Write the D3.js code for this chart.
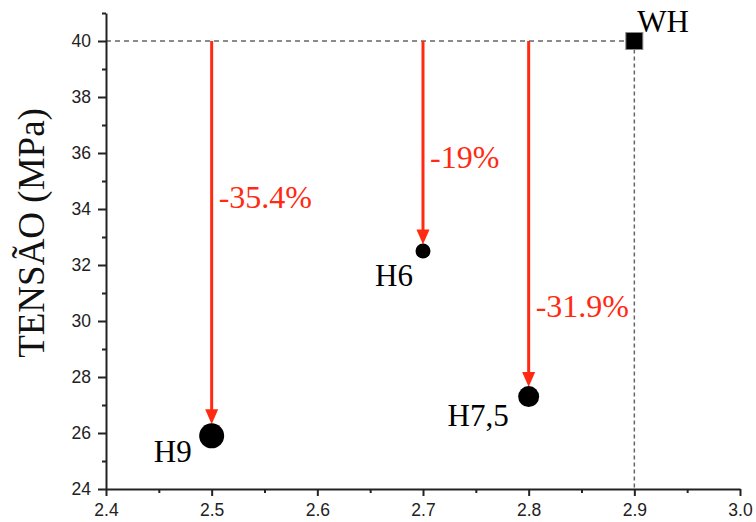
<!DOCTYPE html>
<html>
<head>
<meta charset="utf-8">
<script src="https://cdn.jsdelivr.net/npm/d3@7"></script>
<style>
  html, body { margin: 0; padding: 0; background: #fff; }
  svg { display: block; }
</style>
</head>
<body>
<svg id="chart" width="756" height="522"></svg>
<script>
// ---- data ----
const categories = ["WH", "H6", "H7,5", "H9"];
const xValues = [2.9, 2.7, 2.8, 2.5];
const yValues = [40, 32.5, 27.3, 25.9];
const reference = "WH";
const arrowTargets = ["H6", "H7,5", "H9"];
const reductionLabels = ["-19%", "-31.9%", "-35.4%"];
const xTicks = [2.4, 2.5, 2.6, 2.7, 2.8, 2.9, 3.0];
const xMinorTicks = [2.45, 2.55, 2.65, 2.75, 2.85, 2.95];
const yTicks = [24, 26, 28, 30, 32, 34, 36, 38, 40];
const yMinorTicks = [25, 27, 29, 31, 33, 35, 37, 39, 41];
const yTitle = "TENSÃO (MPa)";

// ---- style / layout ----
const SERIF = "'Liberation Serif', 'Times New Roman', Times, serif";
const SANS = "'Liberation Sans', Arial, Helvetica, sans-serif";
const RED = "#ff2a12";
const markerRadius = { "H6": 7.5, "H7,5": 10.5, "H9": 12.5 };
const squareSize = 17;
const pointLabelOffset = { "WH": [3, -9, "start"], "H6": [-10, 35, "end"], "H7,5": [-20, 29, "end"], "H9": [-20, 26, "end"] };
const pctLabelY = { "H6": 168, "H7,5": 317, "H9": 208 };

const svg = d3.select("#chart");
const x = d3.scaleLinear().domain([2.4, 3.0]).range([106, 740]);
const y = d3.scaleLinear().domain([24, 41]).range([489, 13]);

const pts = categories.map((c, i) => ({ name: c, x: xValues[i], y: yValues[i] }));
const ref = pts.find(p => p.name === reference);

// dashed reference lines
svg.append("line")
  .attr("x1", x(2.4)).attr("x2", x(ref.x) - squareSize / 2)
  .attr("y1", y(ref.y)).attr("y2", y(ref.y))
  .attr("stroke", "#666").attr("stroke-width", 1.5).attr("stroke-dasharray", "5,4");
svg.append("line")
  .attr("x1", x(ref.x)).attr("x2", x(ref.x))
  .attr("y1", y(ref.y) + squareSize / 2).attr("y2", y(24))
  .attr("stroke", "#666").attr("stroke-width", 1.5).attr("stroke-dasharray", "4,3");

// axes
function styleAxis(g) {
  g.selectAll("path.domain").attr("stroke", "#222").attr("stroke-width", 2);
  g.selectAll(".tick line").attr("stroke", "#222").attr("stroke-width", 2);
  g.selectAll(".tick text").attr("fill", "#222").style("font-family", SANS).style("font-size", "17.5px");
}
const xAxis = svg.append("g").attr("transform", `translate(0,${y(24)})`)
  .call(d3.axisBottom(x).tickValues(xTicks).tickFormat(d3.format(".1f")).tickSize(7).tickSizeOuter(0).tickPadding(8));
styleAxis(xAxis);
const xMinor = svg.append("g").attr("transform", `translate(0,${y(24)})`)
  .call(d3.axisBottom(x).tickValues(xMinorTicks).tickFormat("").tickSize(4).tickSizeOuter(0));
styleAxis(xMinor);
xMinor.select("path.domain").remove();

const yAxis = svg.append("g").attr("transform", `translate(${x(2.4)},0)`)
  .call(d3.axisLeft(y).tickValues(yTicks).tickFormat(d3.format("d")).tickSize(8).tickSizeOuter(0).tickPadding(7));
styleAxis(yAxis);
const yMinor = svg.append("g").attr("transform", `translate(${x(2.4)},0)`)
  .call(d3.axisLeft(y).tickValues(yMinorTicks).tickFormat("").tickSize(4).tickSizeOuter(0));
styleAxis(yMinor);
yMinor.select("path.domain").remove();

// y title
svg.append("text")
  .attr("transform", `translate(44,233) rotate(-90)`)
  .attr("text-anchor", "middle")
  .style("font-family", SERIF).style("font-size", "37px").attr("fill", "#111")
  .text(yTitle);

// arrows
arrowTargets.forEach((name, i) => {
  const p = pts.find(d => d.name === name);
  const cx = x(p.x);
  const tip = y(p.y) - markerRadius[name] + 1;
  const headLen = 15, headHalf = 6.5;
  svg.append("line")
    .attr("x1", cx).attr("x2", cx)
    .attr("y1", y(ref.y)).attr("y2", tip - headLen + 1)
    .attr("stroke", RED).attr("stroke-width", 3);
  svg.append("path")
    .attr("d", `M${cx},${tip} L${cx - headHalf},${tip - headLen} L${cx + headHalf},${tip - headLen} Z`)
    .attr("fill", RED);
  svg.append("text")
    .attr("x", cx + 7).attr("y", pctLabelY[name])
    .style("font-family", SERIF).style("font-size", "32px").attr("fill", RED)
    .text(reductionLabels[i]);
});

// markers
pts.forEach(p => {
  if (p.name === reference) {
    svg.append("rect")
      .attr("x", x(p.x) - squareSize / 2).attr("y", y(p.y) - squareSize / 2)
      .attr("width", squareSize).attr("height", squareSize)
      .attr("fill", "#000").attr("stroke", "#888").attr("stroke-width", 1);
  } else {
    svg.append("circle")
      .attr("cx", x(p.x)).attr("cy", y(p.y)).attr("r", markerRadius[p.name])
      .attr("fill", "#000");
  }
  const o = pointLabelOffset[p.name];
  svg.append("text")
    .attr("x", x(p.x) + o[0]).attr("y", y(p.y) + o[1])
    .attr("text-anchor", o[2])
    .style("font-family", SERIF).style("font-size", "31px").attr("fill", "#000")
    .text(p.name);
});
</script>
</body>
</html>
